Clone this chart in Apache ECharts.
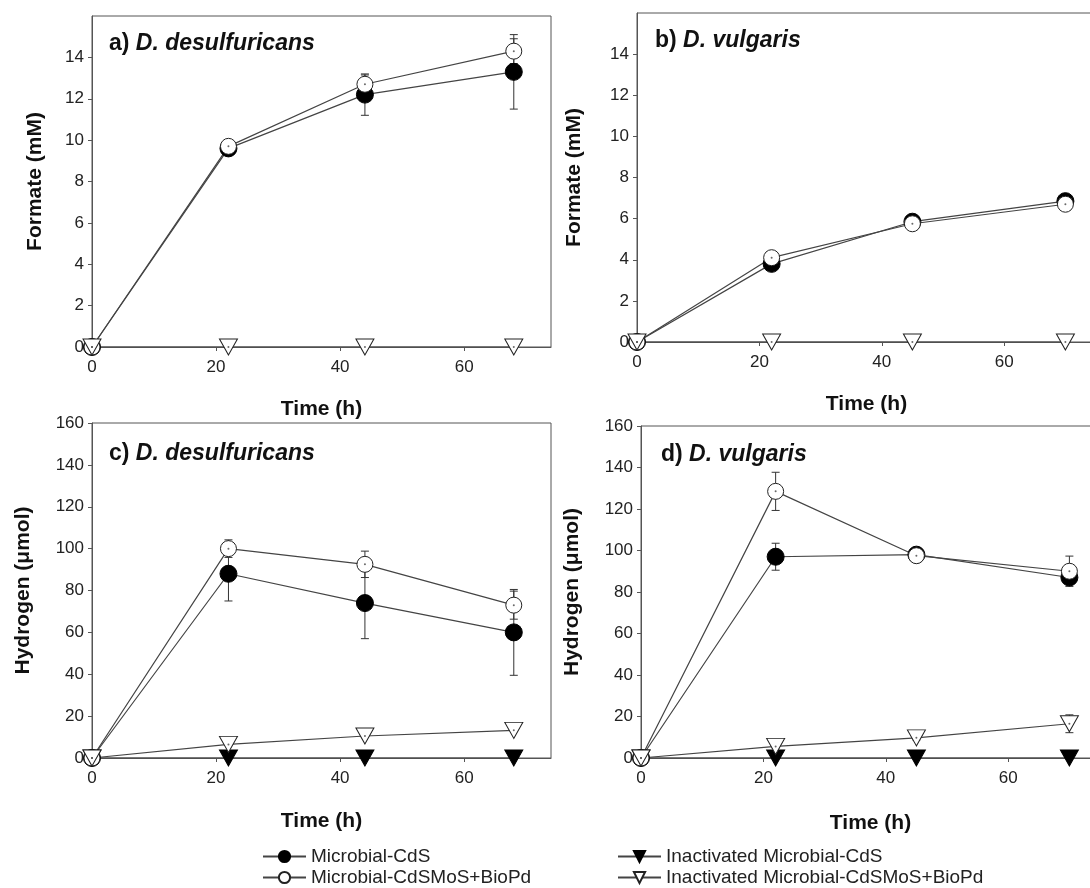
<!DOCTYPE html>
<html><head><meta charset="utf-8">
<script src="https://cdn.jsdelivr.net/npm/echarts@6/dist/echarts.min.js"></script>
<style>html,body{margin:0;padding:0;background:#fff}#c{width:1090px;height:888px}</style>
</head><body><div id="c"></div>
<script>
// ---- data ----
const timeA = [0, 22, 44, 68];          // D. desulfuricans sampling times (h)
const timeB = [0, 22, 45, 70];          // D. vulgaris sampling times (h)
const xTicksLabel = [0, 20, 40, 60];
const formateTicks = [0, 2, 4, 6, 8, 10, 12, 14];
const hydrogenTicks = [0, 20, 40, 60, 80, 100, 120, 140, 160];

// a) formate, D. desulfuricans
const aCdS = [0, 9.6, 12.2, 13.3];
const aCdSErr = [0, 0.15, 1.0, 1.8];
const aMoS = [0, 9.7, 12.7, 14.3];
const aMoSErr = [0, 0.1, 0.45, 0.6];
const aInMoS = [0, 0, 0, 0];
// b) formate, D. vulgaris
const bCdS = [0, 3.8, 5.85, 6.85];
const bMoS = [0, 4.1, 5.75, 6.7];
const bInMoS = [0, 0, 0, 0];
// c) hydrogen, D. desulfuricans
const cCdS = [0, 88, 74, 60];
const cCdSErr = [0, 13, 17, 20.5];
const cMoS = [0, 100, 92.5, 73];
const cMoSErr = [0, 4.2, 6.3, 6.7];
const cInCdS = [0, 0, 0, 0];
const cInMoS = [0, 6.5, 10.5, 13.2];
// d) hydrogen, D. vulgaris
const dCdS = [0, 97, 98, 87];
const dCdSErr = [0, 6.5, 1.5, 2];
const dMoS = [0, 128.5, 97.5, 90];
const dMoSErr = [0, 9.2, 1.5, 7.3];
const dInCdS = [0, 0, 0, 0];
const dInMoS = [0, 5.6, 9.7, 16.5];
const dInMoSErr = [0, 0.8, 1, 4.3];

const N1 = 'Microbial-CdS', N2 = 'Microbial-CdSMoS+BioPd';
const N3 = 'Inactivated Microbial-CdS', N4 = 'Inactivated Microbial-CdSMoS+BioPd';

// ---- layout ----
const FONT = "'Liberation Sans', Arial, Helvetica, sans-serif";
const grids = [
  {left: 92, top: 16, width: 459, height: 331},
  {left: 637, top: 13, width: 459, height: 329},
  {left: 92, top: 423, width: 459, height: 335},
  {left: 641, top: 426, width: 459, height: 332}
];
const xMax = [74, 75, 74, 75];
const yMax = [16, 16, 160, 160];
const yInt = [2, 2, 20, 20];
const yTickSets = [formateTicks, formateTicks, hydrogenTicks, hydrogenTicks];
const yNames = ['Formate (mM)', 'Formate (mM)', 'Hydrogen (\u03bcmol)', 'Hydrogen (\u03bcmol)'];
const yNameGap = [46, 52, 58, 58];
const xNameGap = [52, 52, 53, 55];

const panels = [
  {t: timeA, cds: aCdS, cdsE: aCdSErr, mos: aMoS, mosE: aMoSErr, incds: null, inmos: aInMoS, inmosE: null},
  {t: timeB, cds: bCdS, cdsE: null, mos: bMoS, mosE: null, incds: null, inmos: bInMoS, inmosE: null},
  {t: timeA, cds: cCdS, cdsE: cCdSErr, mos: cMoS, mosE: cMoSErr, incds: cInCdS, inmos: cInMoS, inmosE: null},
  {t: timeB, cds: dCdS, cdsE: dCdSErr, mos: dMoS, mosE: dMoSErr, incds: dInCdS, inmos: dInMoS, inmosE: dInMoSErr}
];

const LINE = {color: '#444', width: 1.2};
function errSeries(gi, t, vals, errs) {
  const data = [];
  t.forEach((x, i) => { if (errs[i] > 0) data.push([x, vals[i] - errs[i], vals[i] + errs[i]]); });
  return {
    type: 'custom', xAxisIndex: gi, yAxisIndex: gi, z: 1, silent: true,
    encode: {x: 0, y: [1, 2]},
    data,
    renderItem(params, api) {
      const x = api.value(0);
      const p1 = api.coord([x, api.value(1)]), p2 = api.coord([x, api.value(2)]);
      const cw = 4, style = {stroke: '#333', lineWidth: 1};
      return {type: 'group', children: [
        {type: 'line', shape: {x1: p1[0], y1: p1[1], x2: p2[0], y2: p2[1]}, style},
        {type: 'line', shape: {x1: p1[0] - cw, y1: p1[1], x2: p1[0] + cw, y2: p1[1]}, style},
        {type: 'line', shape: {x1: p2[0] - cw, y1: p2[1], x2: p2[0] + cw, y2: p2[1]}, style}
      ]};
    }
  };
}
function lineSeries(gi, name, t, vals, kind) {
  const s = {
    type: 'line', name, xAxisIndex: gi, yAxisIndex: gi, z: 3,
    data: t.map((x, i) => [x, vals[i]]),
    lineStyle: {color: LINE.color, width: LINE.width},
    showAllSymbol: true, animation: false
  };
  if (kind === 'cds') Object.assign(s, {symbol: 'circle', symbolSize: 17, itemStyle: {color: '#000', borderColor: '#000', borderWidth: 1}});
  if (kind === 'mos') Object.assign(s, {symbol: 'circle', symbolSize: 16, itemStyle: {color: '#fff', borderColor: '#222', borderWidth: 1}});
  if (kind === 'incds') Object.assign(s, {symbol: 'triangle', symbolRotate: 180, symbolSize: [18, 16], itemStyle: {color: '#000', borderColor: '#000', borderWidth: 1}});
  if (kind === 'inmos') Object.assign(s, {symbol: 'triangle', symbolRotate: 180, symbolSize: [18, 16], itemStyle: {color: '#fff', borderColor: '#222', borderWidth: 1}});
  return s;
}
function dotSeries(gi, pts) {
  return {type: 'scatter', name: 'dots' + gi, xAxisIndex: gi, yAxisIndex: gi, z: 4, silent: true,
    symbol: 'circle', symbolSize: 2, itemStyle: {color: '#444'}, data: pts};
}

const series = [];
panels.forEach((p, gi) => {
  if (p.cdsE) series.push(errSeries(gi, p.t, p.cds, p.cdsE));
  if (p.mosE) series.push(errSeries(gi, p.t, p.mos, p.mosE));
  if (p.inmosE) series.push(errSeries(gi, p.t, p.inmos, p.inmosE));
  if (p.incds) series.push(lineSeries(gi, N3, p.t, p.incds, 'incds'));
  series.push(lineSeries(gi, N1, p.t, p.cds, 'cds'));
  series.push(lineSeries(gi, N2, p.t, p.mos, 'mos'));
  series.push(lineSeries(gi, N4, p.t, p.inmos, 'inmos'));
  const pts = p.t.map((x, i) => [x, p.mos[i]]).concat(p.t.map((x, i) => [x, p.inmos[i]]));
  series.push(dotSeries(gi, pts));
});

const axisLineStyle = {color: '#555', width: 1};
const xAxis = grids.map((g, i) => ({
  gridIndex: i, type: 'value', min: 0, max: xMax[i], interval: 20,
  axisLine: {show: true, onZero: false, lineStyle: axisLineStyle},
  axisTick: {show: true, inside: false, length: 4, lineStyle: axisLineStyle, customValues: xTicksLabel},
  axisLabel: {fontSize: 17, color: '#222', fontFamily: FONT, margin: 12, customValues: xTicksLabel,
    formatter: v => xTicksLabel.includes(v) ? String(v) : ''},
  splitLine: {show: false},
  name: 'Time (h)', nameLocation: 'middle', nameGap: xNameGap[i],
  nameTextStyle: {fontSize: 21, fontWeight: 'bold', color: '#111', fontFamily: FONT}
}));
const yAxis = grids.map((g, i) => ({
  gridIndex: i, type: 'value', min: 0, max: yMax[i], interval: yInt[i],
  axisLine: {show: true, onZero: false, lineStyle: axisLineStyle},
  axisTick: {show: true, inside: false, length: 4, lineStyle: axisLineStyle, customValues: yTickSets[i]},
  axisLabel: {fontSize: 17, color: '#222', fontFamily: FONT, margin: 8, customValues: yTickSets[i],
    formatter: v => yTickSets[i].includes(v) ? String(v) : ''},
  splitLine: {show: false},
  name: yNames[i], nameLocation: 'middle', nameGap: yNameGap[i],
  nameTextStyle: {fontSize: 21, fontWeight: 'bold', color: '#111', fontFamily: FONT}
}));

const titles = [
  {l: 'a) ', s: 'D. desulfuricans', x: 109, y: 32},
  {l: 'b) ', s: 'D. vulgaris', x: 655, y: 29},
  {l: 'c) ', s: 'D. desulfuricans', x: 109, y: 442},
  {l: 'd) ', s: 'D. vulgaris', x: 661, y: 443}
].map(t => ({
  text: '{n|' + t.l + '}{i|' + t.s + '}', left: t.x, top: t.y, padding: 0,
  textStyle: {rich: {
    n: {fontSize: 23, fontWeight: 'bold', color: '#111', fontFamily: FONT},
    i: {fontSize: 23, fontWeight: 'bold', fontStyle: 'italic', color: '#111', fontFamily: FONT}
  }}
}));

const legendCommon = {
  orient: 'vertical', top: 847, padding: 0, itemWidth: 43, itemHeight: 14, itemGap: 2,
  selectedMode: false,
  textStyle: {fontSize: 19, color: '#222', fontFamily: FONT}
};

const option = {
  animation: false,
  backgroundColor: '#fff',
  title: titles,
  grid: grids.map(g => Object.assign({show: true, borderColor: '#555', borderWidth: 1, backgroundColor: 'transparent', containLabel: false, outerBoundsMode: 'none'}, g)),
  xAxis, yAxis,
  legend: [
    Object.assign({}, legendCommon, {left: 262, data: [N1, N2]}),
    Object.assign({}, legendCommon, {left: 617, data: [N3, N4]})
  ],
  series
};
const chart = echarts.init(document.getElementById('c'), null, {renderer: 'canvas'});
chart.setOption(option);
</script></body></html>
